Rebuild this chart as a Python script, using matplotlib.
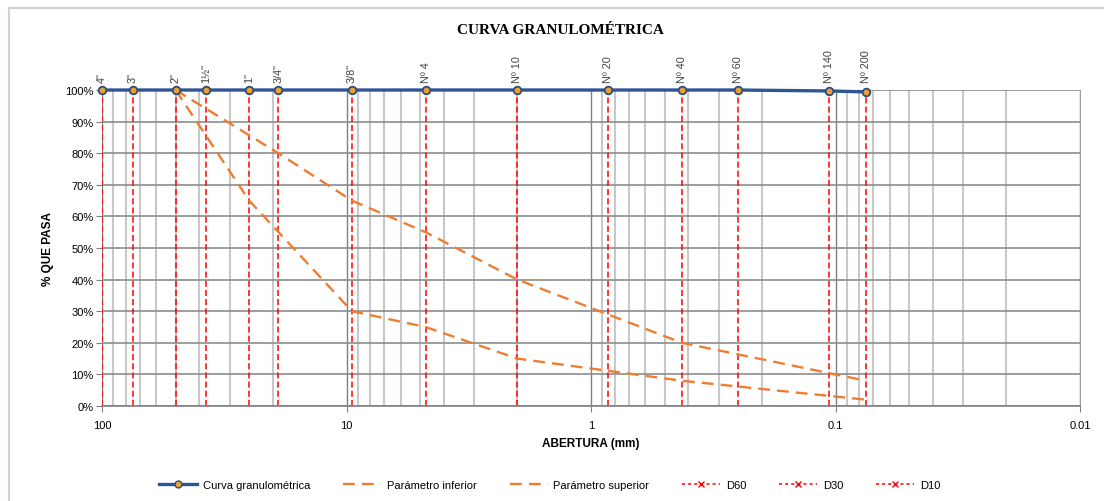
import matplotlib
matplotlib.use("Agg")
import matplotlib.pyplot as plt
from matplotlib.lines import Line2D
from matplotlib.ticker import FixedLocator, NullFormatter, FuncFormatter

plt.rcParams['font.family'] = ['Liberation Sans', 'DejaVu Sans']

# tamices y aberturas (mm)
sieve_labels = ['4"', '3"', '2"', '1½"', '1"', '3/4"', '3/8"', 'Nº 4', 'Nº 10',
                'Nº 20', 'Nº 40', 'Nº 60', 'Nº 140', 'Nº 200']
sieve_mm = [100, 75, 50, 37.5, 25, 19, 9.5, 4.75, 2.0, 0.85, 0.425, 0.25, 0.106, 0.075]

# curva granulometrica (% que pasa)
curve_pct = [100, 100, 100, 100, 100, 100, 100, 100, 100, 100, 100, 100, 99.7, 99.4]

# parametros (limites de la especificacion)
lower_mm = [50, 25, 9.5, 4.75, 2.0, 0.425, 0.075]
lower_pct = [100, 65, 30, 25, 15, 8, 2]
upper_mm = [50, 19, 9.5, 4.75, 2.0, 0.425, 0.075]
upper_pct = [100, 80, 65, 55, 40, 20, 8]

fig = plt.figure(figsize=(11.04, 5.02), dpi=100)
ax = fig.add_axes([0.0924, 0.1892, 0.8859, 0.6295])

orange = '#ED7D31'
ax.vlines(sieve_mm, 0, 100, colors='#FF0000', linestyles=(0, (4, 2)), lw=1.1, zorder=2)
ax.plot(lower_mm, lower_pct, color=orange, ls=(0, (5, 3)), lw=1.7, zorder=3)
ax.plot(upper_mm, upper_pct, color=orange, ls=(0, (5, 3)), lw=1.7, zorder=3)
ax.plot(sieve_mm, curve_pct, color='#2F5597', lw=2.4, marker='o', ms=5.5,
        mfc='#F0A030', mec='#2F4B7C', mew=1.3, zorder=4, clip_on=False)

ax.set_xscale('log')
ax.set_xlim(100, 0.01)
ax.set_ylim(0, 100)

ax.xaxis.set_major_locator(FixedLocator([100, 10, 1, 0.1, 0.01]))
ax.xaxis.set_major_formatter(FuncFormatter(lambda v, p: '%g' % v))
ax.xaxis.set_minor_formatter(NullFormatter())
ax.set_yticks(range(0, 101, 10))
ax.yaxis.set_major_formatter(FuncFormatter(lambda v, p: '%d%%' % v))

ax.grid(True, which='minor', axis='x', color='#C8C8C8', lw=1.5, zorder=0)
ax.grid(True, which='major', axis='x', color='#808080', lw=1.0, zorder=1)
ax.grid(True, which='major', axis='y', color='#8C8C8C', lw=1.2, zorder=1)
for s in ['top', 'left']:
    ax.spines[s].set_visible(False)
ax.spines['right'].set_color('#A0A0A0')
ax.spines['bottom'].set_color('#808080')
ax.spines['bottom'].set_linewidth(1.2)
ax.tick_params(axis='x', which='major', length=4, color='#808080', labelsize=8, pad=6)
ax.tick_params(axis='x', which='minor', length=0)
ax.tick_params(axis='y', length=4, color='#808080', labelsize=8, pad=2)

for lab, mm in zip(sieve_labels, sieve_mm):
    ax.text(mm, 102.5, lab, rotation=90, ha='center', va='bottom', fontsize=7.8,
            color='#404040', clip_on=False)

ax.set_xlabel('ABERTURA (mm)', fontsize=8.5, fontweight='bold', labelpad=5)
ax.set_ylabel('% QUE PASA', fontsize=8.5, fontweight='bold', labelpad=8)
fig.text(0.508, 0.94, 'CURVA GRANULOMÉTRICA', ha='center', va='center',
         fontsize=11, fontweight='bold', family='Liberation Serif')

handles = [
    Line2D([], [], color='#2F5597', lw=2.4, marker='o', ms=5, mfc='#F0A030', mec='#2F4B7C'),
    Line2D([], [], color=orange, ls=(0, (5, 3)), lw=1.7),
    Line2D([], [], color=orange, ls=(0, (5, 3)), lw=1.7),
    Line2D([], [], color='#FF0000', ls=(0, (2, 2)), lw=1.1, marker='x', ms=5),
    Line2D([], [], color='#FF0000', ls=(0, (2, 2)), lw=1.1, marker='x', ms=5),
    Line2D([], [], color='#FF0000', ls=(0, (2, 2)), lw=1.1, marker='x', ms=5),
]
names = ['Curva granulométrica', 'Parámetro inferior', 'Parámetro superior', 'D60', 'D30', 'D10']
fig.legend(handles, names, loc='center', bbox_to_anchor=(0.498, 0.032), ncol=6,
           frameon=False, fontsize=8, handlelength=3.4, columnspacing=3.0, handletextpad=0.5)

# borde del area del grafico
fig.add_artist(Line2D([9 / 1104, 9 / 1104], [0, 1 - 9 / 502], color='#D0D0D0', lw=1.5,
                      transform=fig.transFigure))
fig.add_artist(Line2D([9 / 1104, 1], [1 - 9 / 502, 1 - 9 / 502], color='#D0D0D0', lw=1.5,
                      transform=fig.transFigure))

fig.savefig('out.png', dpi=100)
